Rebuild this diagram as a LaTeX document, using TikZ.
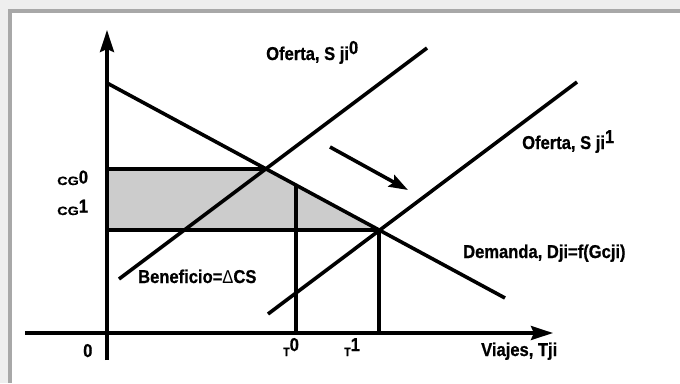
\documentclass[tikz,border=0pt]{standalone}
\usepackage{fontspec}
\setmainfont{Liberation Sans}[FakeStretch=0.89, BoldFeatures={FakeBold=0.8}]
\usetikzlibrary{arrows.meta}
\definecolor{bgc}{HTML}{EEEEEE}
\definecolor{frc}{HTML}{A8A8A8}
\definecolor{fillc}{HTML}{CCCCCC}
\tikzset{
  curve/.style={line width=3.6pt},
  lab/.style={anchor=base west, inner sep=0pt, font=\fontsize{18.6}{20}\selectfont\bfseries},
  axtip/.style={-{Stealth[length=22pt,width=14pt,inset=3pt]}},
  movetip/.style={-{Stealth[length=19pt,width=13pt,inset=3pt]}},
}
\newcommand\supd[2]{\raisebox{#1}{#2}}
\newcommand\smallcap[1]{{\fontsize{12}{12}\selectfont #1}}
\newcommand\widecap[1]{\scalebox{1.35}[1]{\fontsize{12}{12}\selectfont #1}}
\begin{document}
\begin{tikzpicture}[x=1pt,y=-1pt]
\fill[bgc] (0,0) rectangle (680,383);
\fill[frc] (8,9) rectangle (680,383);
\fill[white] (12,13) rectangle (680,383);
\useasboundingbox (0,0) rectangle (680,383);
% coordinates
\coordinate (ytop) at (107,30);
\coordinate (ybot) at (107,360);
\coordinate (xl) at (25,333);
\coordinate (xr) at (553,333);
\coordinate (d0) at (107,83);
\coordinate (d1) at (505,298);
\coordinate (e0) at (266,169);
\coordinate (e1) at (379,230);
\coordinate (c0) at (107,169);
\coordinate (c1) at (107,230);
\coordinate (t0top) at (296,185);
\coordinate (t0) at (296,333);
\coordinate (t1) at (379,333);
\coordinate (s0a) at (119,279);
\coordinate (s0b) at (427,48);
\coordinate (s1a) at (268,314);
\coordinate (s1b) at (577,82);
\coordinate (ma) at (330,147);
\coordinate (mb) at (408,190);
% shaded benefit area
\fill[fillc] (c0) -- (e0) -- (e1) -- (c1) -- cycle;
% lines
\draw[curve] (c0) -- (e0);
\draw[curve] (c1) -- (e1);
\draw[curve] (t0top) -- (t0);
\draw[curve] (e1) -- (t1);
\draw[curve] (d0) -- (d1);
\draw[curve] (s0a) -- (s0b);
\draw[curve] (s1a) -- (s1b);
\draw[curve,axtip] (ybot) -- (ytop);
\draw[curve,axtip] (xl) -- (xr);
\draw[curve,movetip] (ma) -- (mb);
% labels
\node[lab] (lo0) at (266,60) {Oferta, S ji\supd{6pt}{0}};
\node[lab] (lo1) at (522,149) {Oferta, S ji\supd{6pt}{1}};
\node[lab] (ld) at (463,258) {Demanda, Dji=f(Gcji)};
\node[lab] (lv) at (481,356) {Viajes, Tji};
\node[lab] (lb) at (138,283) {Beneficio={\mdseries Δ}CS};
\node[lab] (lz) at (83,357) {0};
\node[lab] (lt0) at (283,356) {\smallcap{T}\supd{5pt}{0}};
\node[lab] (lt1) at (344,356) {\smallcap{T}\supd{5pt}{1}};
\node[lab] (lc0) at (57,185) {\widecap{CG}\supd{1.5pt}{0}};
\node[lab] (lc1) at (57,215) {\widecap{CG}\supd{2.5pt}{1}};
\end{tikzpicture}
\end{document}
